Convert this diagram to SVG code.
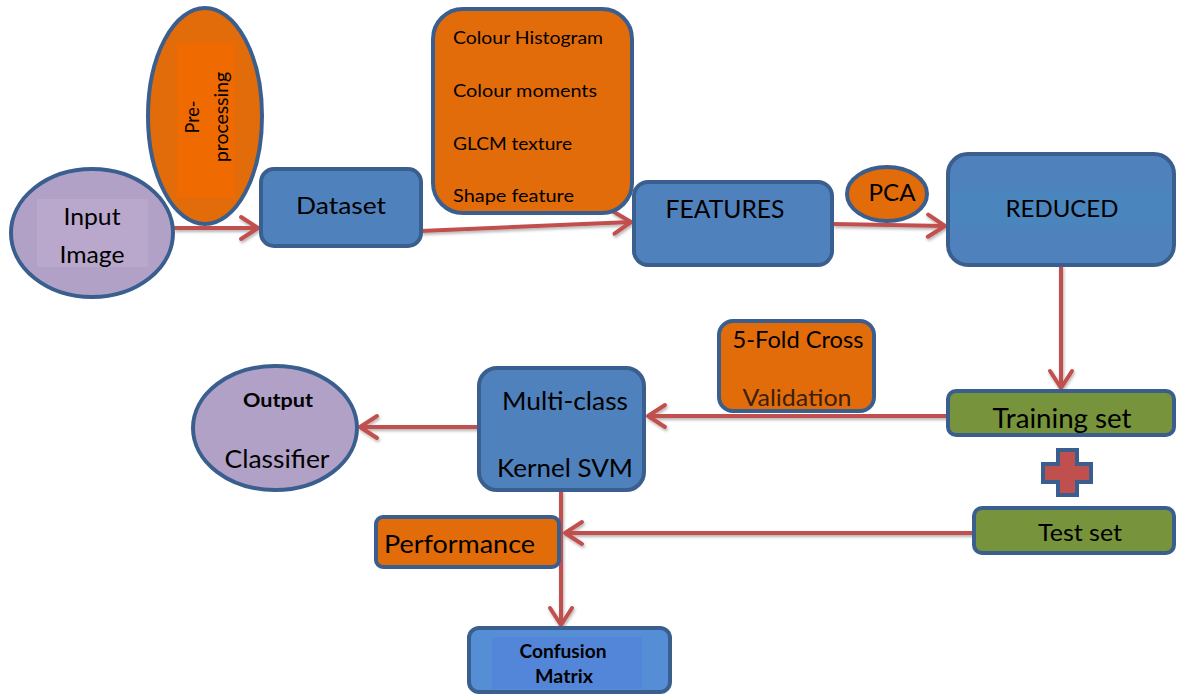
<svg xmlns="http://www.w3.org/2000/svg" width="1177" height="694" viewBox="0 0 1177 694">
  <defs>
    <style>
      .edge { fill: none; stroke: #c0504d; stroke-width: 4; }
      .blue { fill: #4f81bd; stroke: #3a5f8e; stroke-width: 4; }
      .orange { fill: #e36c0a; stroke: #3a5f8e; stroke-width: 4; }
      .green { fill: #77933c; stroke: #3a5f8e; stroke-width: 4; }
      .lilac { fill: #b2a1c7; stroke: #3a5f8e; stroke-width: 4; }
      .t { font-family: Lato, "Liberation Sans", sans-serif; fill: #000; }
      .mid { text-anchor: middle; }
      .b { font-weight: bold; }
    </style>
    <marker id="head" viewBox="-20 -14 24 28" refX="0" refY="0" markerWidth="24" markerHeight="28" markerUnits="userSpaceOnUse" orient="auto">
      <path d="M-17,-11 L0,0 L-17,11" fill="none" stroke="#c0504d" stroke-width="4" stroke-linecap="round" stroke-linejoin="round"/>
    </marker>
    <filter id="shadow" x="-5%" y="-50%" width="110%" height="200%">
      <feDropShadow dx="1" dy="2" stdDeviation="1.5" flood-color="#000" flood-opacity="0.3"/>
    </filter>
  </defs>

  <rect width="1177" height="694" fill="#fff"/>

  <!-- connectors -->
  <g id="connectors" filter="url(#shadow)">
    <path class="edge" d="M174,228 L258,228" marker-end="url(#head)"/>
    <path class="edge" d="M421,231 L631,222" marker-end="url(#head)"/>
    <path class="edge" d="M833,224 L945,226" marker-end="url(#head)"/>
    <path class="edge" d="M1061,265 L1061,388" marker-end="url(#head)"/>
    <path class="edge" d="M948,416 L648,416" marker-end="url(#head)"/>
    <path class="edge" d="M478,427 L360,427" marker-end="url(#head)"/>
    <path class="edge" d="M561,490 L561,625" marker-end="url(#head)"/>
    <path class="edge" d="M974,533 L565,533" marker-end="url(#head)"/>
  </g>

  <!-- input image -->
  <g id="input-image">
    <ellipse class="lilac" cx="92" cy="233" rx="81" ry="64"/>
    <rect x="37" y="199" width="111" height="68" fill="#b9a8cc"/>
    <text class="t mid" x="92" y="225" font-size="24" textLength="57" lengthAdjust="spacingAndGlyphs">Input</text>
    <text class="t mid" x="92" y="263" font-size="24" textLength="65" lengthAdjust="spacingAndGlyphs">Image</text>
  </g>

  <!-- pre-processing -->
  <g id="pre-processing">
    <ellipse class="orange" cx="205" cy="116" rx="57" ry="108"/>
    <rect x="177" y="43" width="58" height="155" fill="#ef6a00"/>
    <g transform="translate(205,117) rotate(-90)">
      <text class="t mid" x="0" y="-6" font-size="20" textLength="33" lengthAdjust="spacingAndGlyphs">Pre-</text>
      <text class="t mid" x="0" y="23" font-size="20" textLength="90" lengthAdjust="spacingAndGlyphs">processing</text>
    </g>
  </g>

  <!-- dataset -->
  <g id="dataset">
    <rect class="blue" x="261" y="169" width="160" height="77" rx="13"/>
    <text class="t mid" x="341" y="214" font-size="24" textLength="90" lengthAdjust="spacingAndGlyphs">Dataset</text>
  </g>

  <!-- feature list -->
  <g id="feature-list">
    <rect class="orange" x="433" y="9" width="199" height="204" rx="30"/>
    <text class="t" x="453" y="44" font-size="17" textLength="150" lengthAdjust="spacingAndGlyphs">Colour Histogram</text>
    <text class="t" x="453" y="97" font-size="17" textLength="144" lengthAdjust="spacingAndGlyphs">Colour moments</text>
    <text class="t" x="453" y="150" font-size="17" textLength="119" lengthAdjust="spacingAndGlyphs">GLCM texture</text>
    <text class="t" x="453" y="202" font-size="17" textLength="121" lengthAdjust="spacingAndGlyphs">Shape feature</text>
  </g>

  <!-- features -->
  <g id="features">
    <rect class="blue" x="634" y="182" width="198" height="83" rx="14"/>
    <text class="t mid" x="725" y="218" font-size="25" textLength="119" lengthAdjust="spacingAndGlyphs">FEATURES</text>
  </g>

  <!-- pca -->
  <g id="pca">
    <ellipse class="orange" cx="887" cy="194" rx="40" ry="27"/>
    <text class="t mid" x="892" y="201" font-size="23" textLength="47" lengthAdjust="spacingAndGlyphs">PCA</text>
  </g>

  <!-- reduced -->
  <g id="reduced">
    <rect class="blue" x="948" y="154" width="226" height="111" rx="20"/>
    <rect x="951" y="190" width="220" height="36" fill="#4a86be" opacity="0.8"/>
    <text class="t mid" x="1062" y="217" font-size="24" textLength="113" lengthAdjust="spacingAndGlyphs">REDUCED</text>
  </g>

  <!-- training set -->
  <g id="training-set">
    <rect class="green" x="948" y="391" width="226" height="44" rx="8"/>
    <text class="t mid" x="1062" y="428" font-size="26" textLength="139" lengthAdjust="spacingAndGlyphs">Training set</text>
  </g>

  <!-- plus sign -->
  <g id="plus">
    <path d="M1058,450 L1077,450 L1077,464 L1091,464 L1091,482 L1077,482 L1077,495 L1058,495 L1058,482 L1043,482 L1043,464 L1058,464 Z" fill="#c0504d" stroke="#3a5f8e" stroke-width="4" stroke-linejoin="miter"/>
  </g>

  <!-- test set -->
  <g id="test-set">
    <rect class="green" x="974" y="508" width="200" height="45" rx="8"/>
    <text class="t mid" x="1080" y="541" font-size="24" textLength="84" lengthAdjust="spacingAndGlyphs">Test set</text>
  </g>

  <!-- cross validation -->
  <g id="cross-validation">
    <rect class="orange" x="719" y="321" width="155" height="90" rx="14"/>
    <text class="t mid" x="798" y="348" font-size="24" textLength="131" lengthAdjust="spacingAndGlyphs">5-Fold Cross</text>
    <text class="t mid" x="797" y="406" font-size="24" fill="#3b1e0a" textLength="109" lengthAdjust="spacingAndGlyphs" style="fill:#3b200c">Validation</text>
  </g>

  <!-- multi-class kernel svm -->
  <g id="svm">
    <rect class="blue" x="479" y="368" width="165" height="122" rx="18"/>
    <text class="t mid" x="565" y="410" font-size="25" textLength="126" lengthAdjust="spacingAndGlyphs">Multi-class</text>
    <text class="t mid" x="565" y="477" font-size="25" textLength="136" lengthAdjust="spacingAndGlyphs">Kernel SVM</text>
  </g>

  <!-- output classifier -->
  <g id="output-classifier">
    <ellipse class="lilac" cx="275" cy="428" rx="82" ry="62"/>
    <text class="t mid b" x="278" y="407" font-size="19" textLength="70" lengthAdjust="spacingAndGlyphs">Output</text>
    <text class="t mid" x="277" y="468" font-size="25" textLength="105" lengthAdjust="spacingAndGlyphs">Classifier</text>
  </g>

  <!-- performance -->
  <g id="performance">
    <rect class="orange" x="376" y="517" width="183" height="50" rx="7"/>
    <text class="t" x="384" y="553" font-size="25" textLength="151" lengthAdjust="spacingAndGlyphs">Performance</text>
  </g>

  <!-- confusion matrix -->
  <g id="confusion-matrix">
    <rect x="469" y="628" width="201" height="64" rx="10" fill="#558ed5" stroke="#3a5f8e" stroke-width="4"/>
    <rect x="492" y="637" width="150" height="52" fill="#5383d8" opacity="0.7"/>
    <text class="t mid b" x="563" y="658" font-size="18" textLength="87" lengthAdjust="spacingAndGlyphs">Confusion</text>
    <text class="t mid b" x="564" y="683" font-size="18" textLength="58" lengthAdjust="spacingAndGlyphs">Matrix</text>
  </g>
</svg>
